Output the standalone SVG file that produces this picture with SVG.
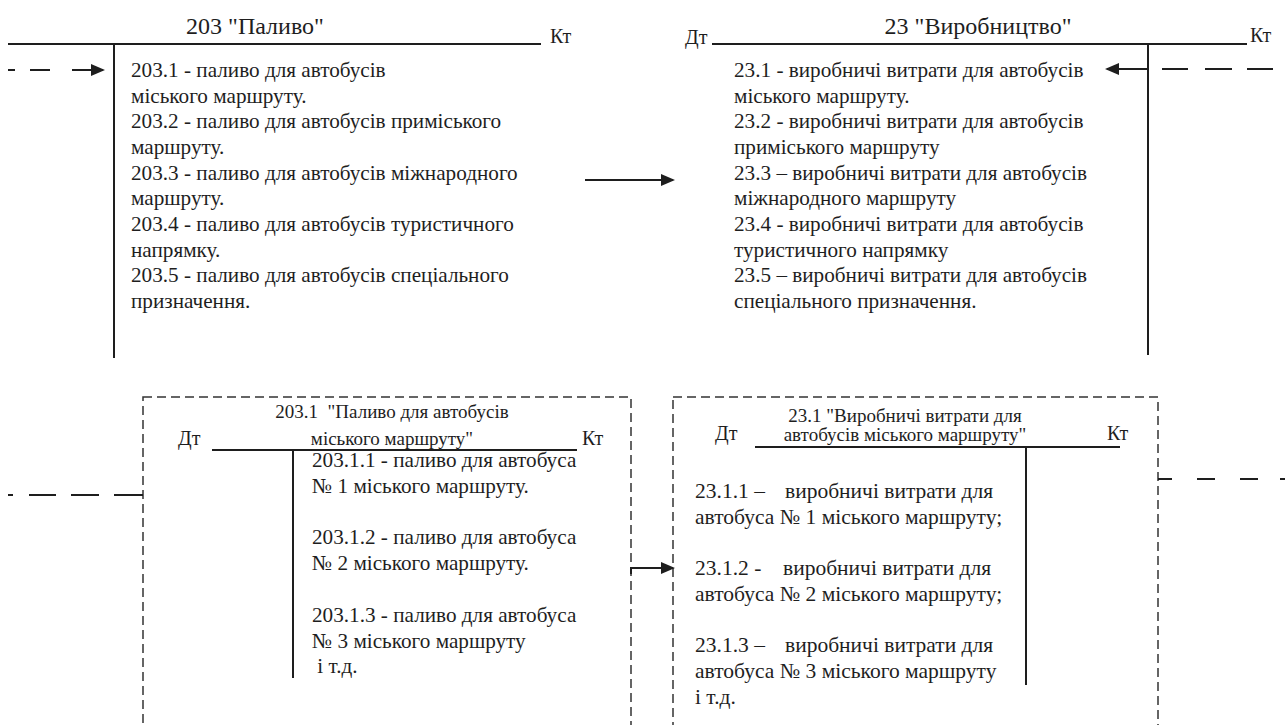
<svg xmlns="http://www.w3.org/2000/svg" width="1285" height="725" viewBox="0 0 1285 725">
<style>
text{font-family:'Liberation Serif','Times New Roman',serif;fill:#1e1e1e;white-space:pre}
.body{font-size:21.2px}
.body2{font-size:21.5px}
.ttl{font-size:24px}
.sub{font-size:19px}
.dk{font-size:20px}
.ln{stroke:#1e1e1e;stroke-width:2;fill:none}
.box{stroke:#333;stroke-width:1.5;fill:none;stroke-dasharray:9 5}
.cn{stroke:#1e1e1e;stroke-width:2;fill:none}
</style>
<defs>
<marker id="ah" markerUnits="userSpaceOnUse" viewBox="0 0 14 12" markerWidth="14" markerHeight="12" refX="12" refY="6" orient="auto">
<path d="M0,0 L14,6 L0,12 Z" fill="#1e1e1e"/>
</marker>
</defs>
<rect width="1285" height="725" fill="#fff"/>

<g id="acc203">
<line class="ln" x1="8" y1="44" x2="541" y2="44"/>
<line class="ln" x1="114" y1="44" x2="114" y2="358"/>
<text class="ttl" x="255" y="34" text-anchor="middle">203 "Паливо"</text>
<text class="dk" x="550" y="43">Кт</text>
<text class="body" x="131" y="77">203.1 - паливо для автобусів<tspan x="131" dy="25.65">міського маршруту.</tspan><tspan x="131" dy="25.65">203.2 - паливо для автобусів приміського</tspan><tspan x="131" dy="25.65">маршруту.</tspan><tspan x="131" dy="25.65">203.3 - паливо для автобусів міжнародного</tspan><tspan x="131" dy="25.65">маршруту.</tspan><tspan x="131" dy="25.65">203.4 - паливо для автобусів туристичного</tspan><tspan x="131" dy="25.65">напрямку.</tspan><tspan x="131" dy="25.65">203.5 - паливо для автобусів спеціального</tspan><tspan x="131" dy="25.65">призначення.</tspan></text>
</g>

<g id="acc23">
<line class="ln" x1="712" y1="44" x2="1247" y2="44"/>
<line class="ln" x1="1148" y1="44" x2="1148" y2="355"/>
<text class="dk" x="685" y="44">Дт</text>
<text class="ttl" x="978" y="34" text-anchor="middle">23 "Виробництво"</text>
<text class="dk" x="1250" y="42">Кт</text>
<text class="body" x="734" y="77">23.1 - виробничі витрати для автобусів<tspan x="734" dy="25.65">міського маршруту.</tspan><tspan x="734" dy="25.65">23.2 - виробничі витрати для автобусів</tspan><tspan x="734" dy="25.65">приміського маршруту</tspan><tspan x="734" dy="25.65">23.3 – виробничі витрати для автобусів</tspan><tspan x="734" dy="25.65">міжнародного маршруту</tspan><tspan x="734" dy="25.65">23.4 - виробничі витрати для автобусів</tspan><tspan x="734" dy="25.65">туристичного напрямку</tspan><tspan x="734" dy="25.65">23.5 – виробничі витрати для автобусів</tspan><tspan x="734" dy="25.65">спеціального призначення.</tspan></text>
</g>

<g id="acc2031">
<rect class="box" x="143" y="397" width="488" height="340"/>
<line class="ln" x1="212" y1="450" x2="577" y2="450"/>
<line class="ln" x1="293" y1="450" x2="293" y2="678"/>
<text class="dk" x="178" y="445">Дт</text>
<text class="dk" x="582" y="445" font-size="21">Кт</text>
<text class="sub" x="392" y="418" text-anchor="middle">203.1  "Паливо для автобусів</text>
<text class="sub" x="392" y="445" text-anchor="middle">міського маршруту"</text>
<text class="body" x="312" y="467">203.1.1 - паливо для автобуса<tspan x="312" dy="25.8">№ 1 міського маршруту.</tspan><tspan x="312" dy="51.6">203.1.2 - паливо для автобуса</tspan><tspan x="312" dy="25.8">№ 2 міського маршруту.</tspan><tspan x="312" dy="51.6">203.1.3 - паливо для автобуса</tspan><tspan x="312" dy="25.8">№ 3 міського маршруту</tspan><tspan x="312" dy="25.8"> і т.д.</tspan></text>
</g>

<g id="acc231">
<rect class="box" x="673" y="397" width="485" height="340"/>
<line class="ln" x1="755" y1="447" x2="1120" y2="447"/>
<line class="ln" x1="1026" y1="447" x2="1026" y2="685"/>
<text class="dk" x="715" y="440" font-size="21">Дт</text>
<text class="dk" x="1107" y="440" font-size="21">Кт</text>
<text class="sub" x="905" y="422" text-anchor="middle">23.1 "Виробничі витрати для</text>
<text class="sub" x="905" y="441" text-anchor="middle">автобусів міського маршруту"</text>
<text class="body2" x="695" y="498">23.1.1 –<tspan x="785">виробничі витрати для</tspan><tspan x="695" dy="25.7">автобуса № 1 міського маршруту;</tspan><tspan x="695" dy="51.4">23.1.2 -</tspan><tspan x="783">виробничі витрати для</tspan><tspan x="695" dy="25.7">автобуса № 2 міського маршруту;</tspan><tspan x="695" dy="51.4">23.1.3 –</tspan><tspan x="785">виробничі витрати для</tspan><tspan x="695" dy="25.7">автобуса № 3 міського маршруту</tspan><tspan x="695" dy="25.7">і т.д.</tspan></text>
</g>

<g id="connectors">
<path class="cn" d="M8,70 H15 M30,70 H50"/>
<line class="cn" x1="72" y1="70" x2="103" y2="70" marker-end="url(#ah)"/>
<path class="cn" d="M1162,69 H1188 M1205,69 H1232 M1247,69 H1273"/>
<line class="cn" x1="1148" y1="69" x2="1107" y2="69" marker-end="url(#ah)"/>
<line class="cn" x1="585" y1="180" x2="673" y2="180" marker-end="url(#ah)"/>
<path class="cn" d="M8,495 H13 M29,495 H56 M71,495 H99 M114,495 H143"/>
<path class="cn" d="M631,574 V568 H660"/>
<line class="cn" x1="655" y1="568" x2="673" y2="568" marker-end="url(#ah)"/>
<path class="cn" d="M1158,479 H1172 M1197,479 H1215 M1240,479 H1258 M1280,479 H1285"/>
</g>
</svg>
